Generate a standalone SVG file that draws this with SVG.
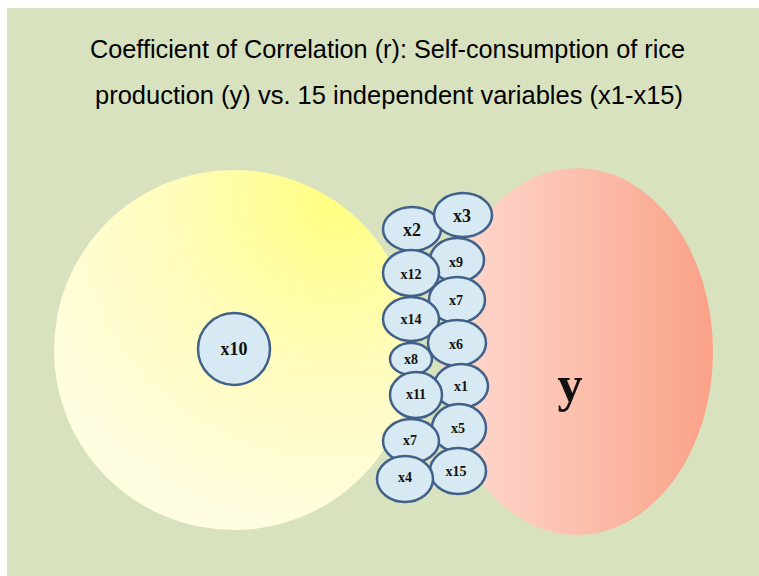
<svg xmlns="http://www.w3.org/2000/svg" width="759" height="576" viewBox="0 0 759 576">
<defs>
<radialGradient id="gy" cx="335" cy="200" r="330" gradientUnits="userSpaceOnUse">
<stop offset="0" stop-color="#ffff80"/>
<stop offset="0.5" stop-color="#fffcbc"/>
<stop offset="1" stop-color="#fffde0"/>
</radialGradient>
<linearGradient id="gr" x1="441" y1="0" x2="713" y2="0" gradientUnits="userSpaceOnUse">
<stop offset="0" stop-color="#fedbd2"/>
<stop offset="0.5" stop-color="#fcc0ae"/>
<stop offset="1" stop-color="#f9a186"/>
</linearGradient>
<style>
.n{fill:#d7e9f2;stroke:#41618a;stroke-width:2.5}
.t{font-family:"Liberation Serif","Times New Roman",serif;font-weight:bold;fill:#111;text-anchor:middle;dominant-baseline:central}
.s{font-size:14px}
.title{font-family:"Liberation Sans",Arial,sans-serif;font-size:25px;fill:#000}
</style>
</defs>
<rect width="759" height="576" fill="#ffffff"/>
<rect x="7" y="8" width="752" height="568" fill="#d9e2bf"/>
<text class="title" x="90" y="58" textLength="595" lengthAdjust="spacingAndGlyphs">Coefficient of Correlation (r): Self-consumption of rice</text>
<text class="title" x="95" y="104" textLength="588" lengthAdjust="spacingAndGlyphs">production (y) vs. 15 independent variables (x1-x15)</text>
<g id="setX">
<circle cx="234" cy="350" r="180" fill="url(#gy)"/>
</g>
<g id="setY">
<ellipse cx="577" cy="351.5" rx="136" ry="183.5" fill="url(#gr)"/>
<text class="t" x="570" y="384" font-size="50">y</text>
</g>
<g id="x10"><circle class="n" cx="234" cy="349" r="36"/><text class="t" x="234" y="349" font-size="18">x10</text></g>
<g id="connectors"></g>
<g id="x2"><ellipse class="n" cx="412" cy="229" rx="29" ry="22"/><text class="t" x="412" y="230" font-size="18">x2</text></g>
<g id="x3"><ellipse class="n" cx="463" cy="215" rx="29" ry="22"/><text class="t" x="462" y="216" font-size="18">x3</text></g>
<g id="x9"><ellipse class="n" cx="457" cy="260" rx="27" ry="22"/><text class="t s" x="456" y="262">x9</text></g>
<g id="x12"><ellipse class="n" cx="411" cy="273" rx="28" ry="23"/><text class="t s" x="411" y="274">x12</text></g>
<g id="x7a"><ellipse class="n" cx="457" cy="300" rx="28" ry="23"/><text class="t s" x="456" y="300">x7</text></g>
<g id="x14"><ellipse class="n" cx="411" cy="319" rx="28" ry="22"/><text class="t s" x="411" y="319">x14</text></g>
<g id="x6"><ellipse class="n" cx="457" cy="343" rx="29" ry="23"/><text class="t s" x="456" y="344">x6</text></g>
<g id="x8"><ellipse class="n" cx="411" cy="359" rx="21" ry="16"/><text class="t s" x="411" y="359">x8</text></g>
<g id="x1"><ellipse class="n" cx="461" cy="386" rx="27" ry="22"/><text class="t s" x="461" y="386">x1</text></g>
<g id="x11"><ellipse class="n" cx="416" cy="395" rx="26" ry="23"/><text class="t s" x="416" y="394">x11</text></g>
<g id="x5"><ellipse class="n" cx="459" cy="428" rx="27" ry="24"/><text class="t s" x="458" y="428">x5</text></g>
<g id="x7b"><ellipse class="n" cx="411" cy="441" rx="28" ry="22"/><text class="t s" x="410" y="440">x7</text></g>
<g id="x15"><ellipse class="n" cx="458" cy="471" rx="28" ry="23"/><text class="t s" x="456" y="471">x15</text></g>
<g id="x4"><ellipse class="n" cx="405" cy="479" rx="28" ry="23"/><text class="t s" x="405" y="477">x4</text></g>
</svg>
